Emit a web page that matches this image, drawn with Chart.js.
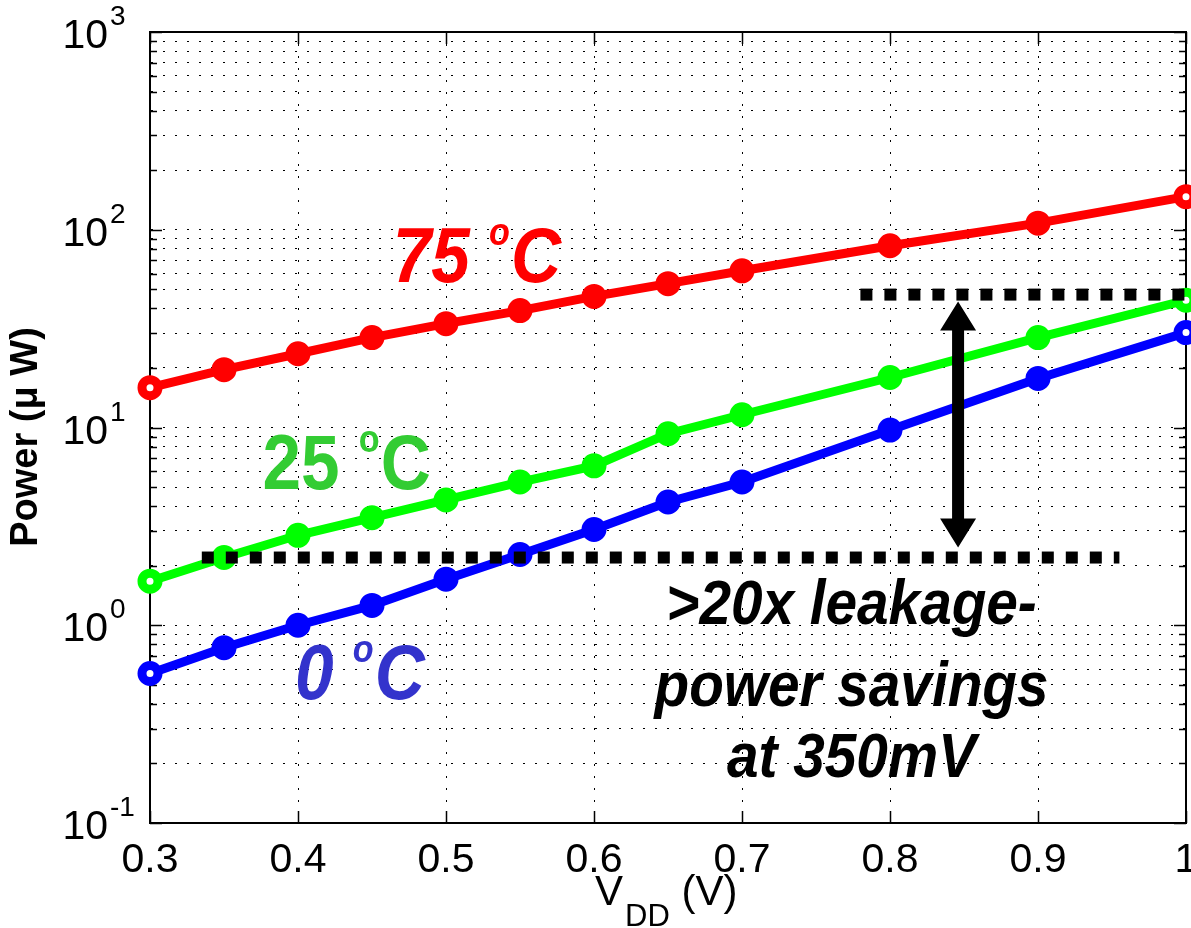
<!DOCTYPE html>
<html lang="en">
<head>
    <meta charset="UTF-8">
    <title>Leakage Power vs VDD</title>
    <script src="https://cdn.jsdelivr.net/npm/chart.js"></script>
    <style>
        body {
            margin: 0;
            background: #fff;
        }
        .wrap {
            position: relative;
            width: 1191px;
            height: 928px;
        }
    </style>
</head>
<body>
    <div class="wrap"><canvas id="powerChart"></canvas></div>

    <script>
        // supply voltage sweep (V)
        const vdd = [0.3, 0.35, 0.4, 0.45, 0.5, 0.55, 0.6, 0.65, 0.7, 0.8, 0.9, 1.0];

        // power (uW) at each temperature
        const power0C  = [0.57, 0.77, 1.0, 1.26, 1.71, 2.28, 3.05, 4.2, 5.3, 9.7, 17.7, 30.2];
        const power25C = [1.67, 2.2, 2.85, 3.5, 4.3, 5.3, 6.4, 9.3, 11.6, 17.9, 28.5, 44.0];
        const power75C = [15.9, 19.6, 23.6, 28.5, 33.5, 39.0, 46.0, 53.4, 62.0, 83.0, 108, 147];

        // axis ticks
        const xTicks = [0.3, 0.4, 0.5, 0.6, 0.7, 0.8, 0.9, 1];
        const yDecades = [-1, 0, 1, 2, 3];

        // leakage levels at 350 mV (bracket showing the >20x savings)
        const leakHigh = 47;
        const leakLow = 2.2;
        const leakHighSpan = [0.78, 1.0];
        const leakLowSpan = [0.335, 0.955];
        const bracketX = 0.846;

        const FONT = '"Liberation Sans", Arial, Helvetica, sans-serif';

        // every 1..9 x 10^n between the decades, for the log grid
        const yGridValues = [];
        yDecades.forEach((d, i) => {
            if (i === yDecades.length - 1) { yGridValues.push(Math.pow(10, d)); return; }
            for (let m = 1; m <= 9; m++) yGridValues.push(m * Math.pow(10, d));
        });

        function series(ys) {
            return vdd.map((v, i) => ({ x: v, y: ys[i] }));
        }

        function curve(label, ys, color) {
            const last = ys.length - 1;
            return {
                label,
                data: series(ys),
                borderColor: color,
                borderWidth: 9,
                pointRadius: 8,
                pointBorderWidth: 9,
                pointBorderColor: color,
                pointBackgroundColor: ctx => (ctx.dataIndex === 0 || ctx.dataIndex === last) ? '#fff' : color,
                tension: 0,
                order: 2,
                clip: false
            };
        }

        function levelLine(span, level) {
            return {
                label: 'level',
                data: span.map(x => ({ x, y: level })),
                borderColor: '#000',
                borderWidth: 12,
                borderDash: [12, 12],
                borderCapStyle: 'butt',
                pointRadius: 0,
                order: 0,
                clip: false
            };
        }

        // text squeezed horizontally, like the narrow Helvetica of the plot
        function narrowText(ctx, text, x, y, sx) {
            ctx.save();
            ctx.translate(x, y);
            ctx.scale(sx, 1);
            ctx.fillText(text, 0, 0);
            ctx.restore();
        }

        // "75 °C" style label: number, small raised "o", then C
        function tempLabel(ctx, x, y, num, color, italic) {
            const style = italic ? 'italic ' : '';
            const sx = 0.9;
            ctx.fillStyle = color;
            ctx.textAlign = 'left';
            ctx.textBaseline = 'alphabetic';
            ctx.font = style + 'bold 77px ' + FONT;
            const w1 = ctx.measureText(num + ' ').width * sx;
            narrowText(ctx, num + ' ', x, y, sx);
            ctx.font = style + 'bold 38px ' + FONT;
            narrowText(ctx, 'o', x + w1, y - 37, sx);
            const w2 = ctx.measureText('o').width * sx;
            ctx.font = style + 'bold 77px ' + FONT;
            narrowText(ctx, 'C', x + w1 + w2 + 1, y, sx);
        }

        const axisDecor = {
            id: 'axisDecor',
            beforeDatasetsDraw(chart) {
                const { ctx, chartArea: a, scales: { x, y } } = chart;
                ctx.save();
                ctx.strokeStyle = '#000';
                ctx.lineWidth = 2;
                ctx.strokeRect(a.left, a.top, a.right - a.left, a.bottom - a.top);

                // inward tick marks
                ctx.lineWidth = 1.5;
                ctx.beginPath();
                yGridValues.forEach(v => {
                    const py = Math.round(y.getPixelForValue(v)) + 0.5;
                    const major = yDecades.some(d => Math.abs(Math.pow(10, d) - v) < 1e-9);
                    const len = major ? 12 : 7;
                    ctx.moveTo(a.left, py); ctx.lineTo(a.left + len, py);
                    ctx.moveTo(a.right, py); ctx.lineTo(a.right - len, py);
                });
                xTicks.forEach(v => {
                    const px = Math.round(x.getPixelForValue(v)) + 0.5;
                    ctx.moveTo(px, a.bottom); ctx.lineTo(px, a.bottom - 12);
                    ctx.moveTo(px, a.top); ctx.lineTo(px, a.top + 12);
                });
                ctx.stroke();
                ctx.restore();
            },
            afterDatasetsDraw(chart) {
                const { ctx, scales: { x, y } } = chart;
                // double-headed arrow between the two leakage levels
                const px = x.getPixelForValue(bracketX);
                const top = y.getPixelForValue(leakHigh) + 7;
                const bot = y.getPixelForValue(leakLow) - 10;
                const headH = 29, headW = 18, shaft = 6;
                ctx.save();
                ctx.fillStyle = '#000';
                ctx.fillRect(px - shaft, top + headH - 2, shaft * 2, bot - top - 2 * headH + 4);
                ctx.beginPath();
                ctx.moveTo(px, top);
                ctx.lineTo(px + headW, top + headH);
                ctx.lineTo(px - headW, top + headH);
                ctx.closePath();
                ctx.moveTo(px, bot);
                ctx.lineTo(px + headW, bot - headH);
                ctx.lineTo(px - headW, bot - headH);
                ctx.closePath();
                ctx.fill();
                ctx.restore();
            },
            afterDraw(chart) {
                const { ctx, chartArea: a, scales: { x, y } } = chart;
                ctx.save();
                ctx.fillStyle = '#000';

                // x tick labels
                ctx.font = '41px ' + FONT;
                ctx.textAlign = 'center';
                ctx.textBaseline = 'alphabetic';
                xTicks.forEach(v => {
                    ctx.fillText(String(v), x.getPixelForValue(v), a.bottom + 49);
                });

                // y tick labels: 10 with exponent
                yDecades.forEach(d => {
                    const py = y.getPixelForValue(Math.pow(10, d));
                    ctx.font = '41px ' + FONT;
                    ctx.textAlign = 'right';
                    ctx.fillText('10', 108, py + 16);
                    ctx.font = '28px ' + FONT;
                    ctx.textAlign = 'left';
                    ctx.fillText(String(d), 110, py - 7);
                });

                // x title: V_DD (V)
                ctx.textAlign = 'left';
                let tx = 595;
                ctx.font = '42px ' + FONT;
                ctx.fillText('V', tx, 905);
                tx += ctx.measureText('V').width + 2;
                ctx.font = '31px ' + FONT;
                ctx.fillText('DD', tx, 926);
                tx += ctx.measureText('DD').width;
                ctx.font = '42px ' + FONT;
                ctx.fillText(' (V)', tx, 905);

                // y title
                ctx.save();
                ctx.translate(37, 437);
                ctx.rotate(-Math.PI / 2);
                ctx.font = 'bold 38px ' + FONT;
                ctx.textAlign = 'center';
                ctx.fillText('Power (\u03bc W)', 0, 0);
                ctx.restore();

                // temperature labels
                tempLabel(ctx, x.getPixelForValue(0.464), y.getPixelForValue(54.6), '75', '#ff0000', true);
                tempLabel(ctx, x.getPixelForValue(0.376), y.getPixelForValue(4.86), '25', '#33cc33', false);
                tempLabel(ctx, x.getPixelForValue(0.398), y.getPixelForValue(0.423), '0', '#3333cc', true);

                // savings note
                ctx.fillStyle = '#000';
                ctx.font = 'italic bold 63px ' + FONT;
                ctx.textAlign = 'center';
                const cx = x.getPixelForValue(0.774);
                narrowText(ctx, '>20x leakage-', cx, y.getPixelForValue(1.01), 0.9);
                narrowText(ctx, 'power savings', cx, y.getPixelForValue(0.39), 0.9);
                narrowText(ctx, 'at 350mV', cx, y.getPixelForValue(0.171), 0.9);
                ctx.restore();
            }
        };

        const ctx = document.getElementById('powerChart').getContext('2d');
        const chart = new Chart(ctx, {
            type: 'line',
            data: {
                datasets: [
                    levelLine(leakHighSpan, leakHigh),
                    levelLine(leakLowSpan, leakLow),
                    curve('75 °C', power75C, '#ff0000'),
                    curve('25 °C', power25C, '#00ff00'),
                    curve('0 °C', power0C, '#0000ff')
                ]
            },
            options: {
                responsive: true,
                maintainAspectRatio: false,
                animation: false,
                layout: {
                    autoPadding: false,
                    padding: { left: 150, top: 32, right: 5, bottom: 105 }
                },
                plugins: {
                    legend: { display: false },
                    tooltip: { enabled: false }
                },
                scales: {
                    x: {
                        type: 'linear',
                        min: 0.3,
                        max: 1,
                        afterBuildTicks: scale => {
                            scale.ticks = xTicks.map(v => ({ value: v }));
                        },
                        ticks: { display: false },
                        grid: { color: '#000', lineWidth: 1, drawTicks: false },
                        border: { color: '#000', width: 2, dash: [2, 10] }
                    },
                    y: {
                        type: 'logarithmic',
                        min: 0.1,
                        max: 1000,
                        afterBuildTicks: scale => {
                            scale.ticks = yGridValues.map(v => ({ value: v }));
                        },
                        ticks: { display: false },
                        grid: { color: '#000', lineWidth: 1, drawTicks: false },
                        border: { color: '#000', width: 2, dash: [2, 10] }
                    }
                }
            },
            plugins: [axisDecor]
        });
    </script>
</body>
</html>
